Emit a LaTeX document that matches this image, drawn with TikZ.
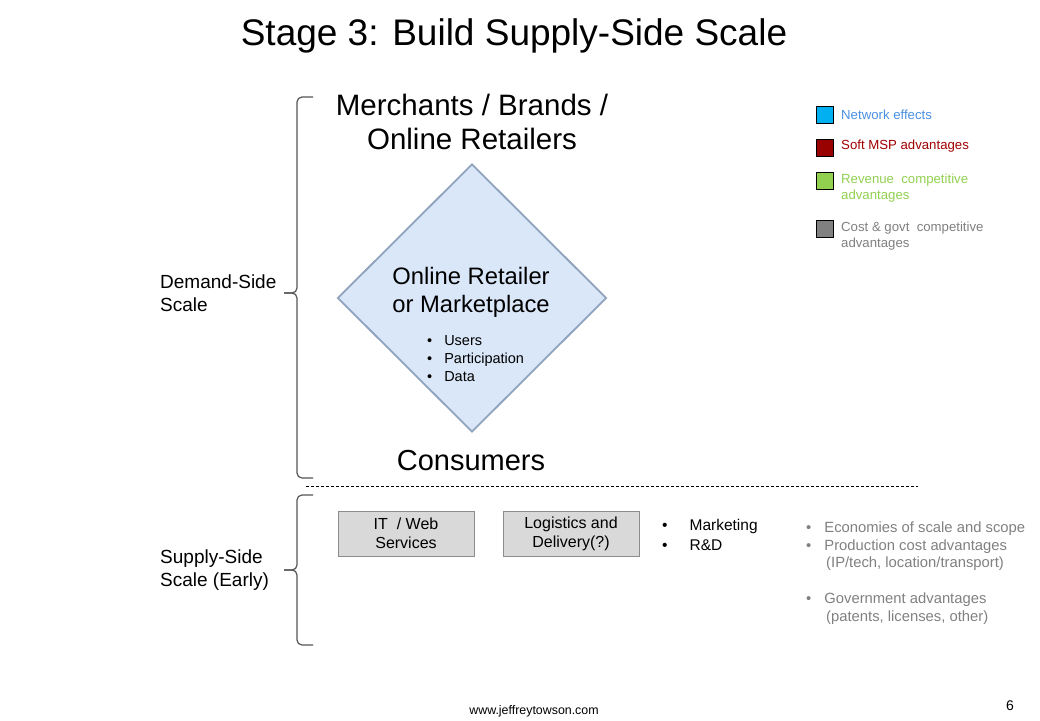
\documentclass[tikz,border=0pt]{standalone}
\usepackage{fontspec}
\setmainfont{Liberation Sans}
\usetikzlibrary{shapes.geometric}
\definecolor{diafill}{HTML}{DAE7F9}
\definecolor{diadraw}{HTML}{8FA3BF}
\definecolor{boxfill}{HTML}{D9D9D9}
\definecolor{boxdraw}{HTML}{8C8C8C}
\definecolor{netblue}{HTML}{00B0F0}
\definecolor{nettext}{HTML}{4A90E2}
\definecolor{softred}{HTML}{990000}
\definecolor{softtext}{HTML}{A00000}
\definecolor{revgreen}{HTML}{92D050}
\definecolor{costgray}{HTML}{808080}
\definecolor{bracegray}{HTML}{555555}
\tikzset{
  txt/.style={inner sep=0pt, anchor=west, align=left},
  legsq/.style={draw=black, line width=0.8pt, minimum width=17pt, minimum height=17pt, inner sep=0pt},
  legtxt/.style={inner sep=0pt, anchor=west, align=left, font=\fontsize{13.2}{16}\selectfont},
  sbox/.style={draw=boxdraw, fill=boxfill, line width=0.8pt, minimum width=136pt, minimum height=45pt, inner sep=0pt, align=center, font=\fontsize{16}{19}\selectfont},
  bracestyle/.style={draw=bracegray, line width=1.2pt, rounded corners=5pt},
}
\begin{document}
\begin{tikzpicture}[x=1pt,y=-1pt]
\useasboundingbox (0,0) rectangle (1040,720);
% title
\node[inner sep=0pt, font=\fontsize{37}{44}\selectfont] (title) at (514,36) {Stage 3: Build Supply-Side Scale};
% diamond
\node[diamond, draw=diadraw, fill=diafill, line width=1.8pt, minimum width=269pt, minimum height=268pt, inner sep=0pt] (platform) at (472,298) {};
\node[inner sep=0pt, align=center, font=\fontsize{23.8}{28}\selectfont] (pltext) at (471,292) {Online Retailer\\or Marketplace};
\node[txt, font=\fontsize{14.5}{18}\selectfont] (pllist) at (427,359) {\textbullet\hspace{12pt}Users\\\textbullet\hspace{12pt}Participation\\\textbullet\hspace{12pt}Data};
% top and bottom labels
\node[inner sep=0pt, align=center, font=\fontsize{29.5}{34}\selectfont] (merchants) at (472,122) {Merchants / Brands /\\Online Retailers};
\node[inner sep=0pt, font=\fontsize{29}{34}\selectfont] (consumers) at (471,461) {Consumers};
% braces
\coordinate (b1top) at (313,97);
\coordinate (b1tip) at (284,293);
\coordinate (b1bot) at (313,478);
\draw[bracestyle] (b1top) -- (297,97) -- (297,293) -- (b1tip);
\draw[bracestyle] (b1tip) -- (297,293) -- (297,478) -- (b1bot);
\coordinate (b2top) at (313,495);
\coordinate (b2tip) at (284,570);
\coordinate (b2bot) at (313,645);
\draw[bracestyle] (b2top) -- (297,495) -- (297,570) -- (b2tip);
\draw[bracestyle] (b2tip) -- (297,570) -- (297,645) -- (b2bot);
\node[txt, font=\fontsize{19}{23}\selectfont] (demand) at (160,293) {Demand-Side\\Scale};
\node[txt, font=\fontsize{19}{23}\selectfont] (supply) at (160,570) {Supply-Side\\Scale (Early)};
% dashed separator
\coordinate (dashL) at (306,486);
\coordinate (dashR) at (918,486);
\draw[dashed, line width=0.8pt, dash pattern=on 3pt off 2pt] (dashL) -- (dashR);
% boxes
\node[sbox] (itweb) at (406,533.5) {IT \ / Web\\Services};
\node[sbox] (logistics) at (571,533.5) {Logistics and\\Delivery(?)};
\node[txt, font=\fontsize{15.5}{20}\selectfont] (mktg) at (662,535) {\textbullet\hspace{22pt}Marketing\\\textbullet\hspace{22pt}R\&D};
% right gray list
\node[txt, text=costgray, font=\fontsize{14.8}{17.8}\selectfont] (costlist) at (806,573) {%
\textbullet\hspace{13pt}Economies of scale and scope\\
\textbullet\hspace{13pt}Production cost advantages\\
\hspace{20pt}(IP/tech, location/transport)\\[17.8pt]
\textbullet\hspace{13pt}Government advantages\\
\hspace{20pt}(patents, licenses, other)};
% legend
\node[legsq, fill=netblue] (sq1) at (824.5,114.5) {};
\node[legtxt, text=nettext] (lg1) at (841,114.5) {Network effects};
\node[legsq, fill=softred] (sq2) at (824.5,147.5) {};
\node[legtxt, text=softtext] (lg2) at (841,146.5) {Soft MSP advantages};
\node[legsq, fill=revgreen] (sq3) at (824.5,180.5) {};
\node[legtxt, text=revgreen] (lg3) at (841,188) {Revenue \ competitive\\advantages};
\node[legsq, fill=costgray] (sq4) at (824.5,228.5) {};
\node[legtxt, text=costgray] (lg4) at (841,236) {Cost \& govt \ competitive\\advantages};
% footer
\node[inner sep=0pt, font=\fontsize{12.4}{14}\selectfont] (footer) at (534,711) {www.jeffreytowson.com};
\node[inner sep=0pt, font=\fontsize{14}{16}\selectfont] (pagenum) at (1010,706) {6};
\end{tikzpicture}
\end{document}
